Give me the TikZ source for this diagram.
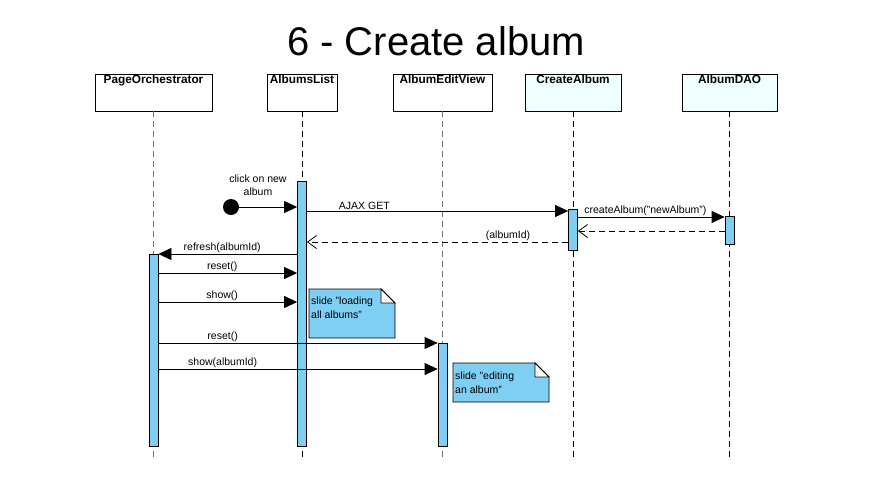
\documentclass[tikz,border=0pt]{standalone}
\usepackage{fontspec}
\setmainfont{Liberation Sans}
\usetikzlibrary{arrows.meta}
\definecolor{barblue}{HTML}{7FCFF5}
\definecolor{headcyan}{HTML}{F0FFFF}

\tikzset{
  head/.style={draw, line width=0.8pt, minimum height=37, inner sep=0pt},
  headtext/.style={font=\bfseries\fontsize{11.8}{14}\selectfont, inner sep=1.5pt},
  life/.style={dash pattern=on 6pt off 4pt, line width=0.8pt},
  bar/.style={draw, fill=barblue, minimum width=9, inner sep=0pt, line width=0.8pt},
  msg/.style={-{Triangle[length=13pt,width=12pt]}, line width=0.8pt},
  ret/.style={dash pattern=on 6pt off 4pt, -{Straight Barb[length=9pt,width=13pt]}, line width=0.8pt},
  lbl/.style={font=\fontsize{10.5}{13.5}\selectfont, inner sep=1pt},
  notebox/.style={draw, fill=barblue, line width=0.8pt},
}

\begin{document}
\begin{tikzpicture}[x=1pt, y=-1pt]
  \useasboundingbox (0,0) rectangle (872,491);
  \node[font=\fontsize{40}{48}\selectfont, anchor=base] (title) at (436,55) {6 - Create album};

  % lifeline heads
  \node[head, minimum width=117, label={[headtext, anchor=north]north:PageOrchestrator}] (po) at (153.5,92.5) {};
  \node[head, minimum width=70, label={[headtext, anchor=north]north:AlbumsList}] (al) at (302,92.5) {};
  \node[head, minimum width=99, label={[headtext, anchor=north]north:AlbumEditView}] (aev) at (442.5,92.5) {};
  \node[head, fill=headcyan, minimum width=96, label={[headtext, anchor=north]north:CreateAlbum}] (ca) at (573,92.5) {};
  \node[head, fill=headcyan, minimum width=95, label={[headtext, anchor=north]north:AlbumDAO}] (dao) at (729.5,92.5) {};

  % lifelines
  \draw[life, black!55] (po.south) -- (po.south |- 0,460);
  \draw[life] (al.south) -- (al.south |- 0,460);
  \draw[life, black!55] (aev.south) -- (aev.south |- 0,460);
  \draw[life] (ca.south) -- (ca.south |- 0,460);
  \draw[life] (dao.south) -- (dao.south |- 0,460);

  % activations
  \node[bar, minimum height=192] (pob) at (po.south |- 0,350) {};
  \node[bar, minimum height=265] (alb) at (al.south |- 0,313.5) {};
  \node[bar, minimum height=103] (aevb) at (aev.south |- 0,394.5) {};
  \node[bar, minimum height=41] (cab) at (ca.south |- 0,229.5) {};
  \node[bar, minimum height=28] (daob) at (dao.south |- 0,230) {};

  % messages
  \node[circle, fill, minimum size=16, inner sep=0pt] (start) at (231,207) {};
  \node[lbl, align=center] at (258,185) {click on new\\album};
  \draw[msg] (start) -- (start -| alb.west);
  \draw[msg] (alb.east |- 0,211) -- node[lbl, above, pos=0.22]{AJAX GET} (cab.west |- 0,211);
  \draw[msg] (cab.east |- 0,217) -- node[lbl, above, pos=0.46]{createAlbum("newAlbum")} (daob.west |- 0,217);
  \draw[ret] (daob.west |- 0,231) -- (cab.east |- 0,231);
  \draw[ret] (cab.west |- 0,242) -- node[lbl, above, pos=0.23]{(albumId)} (alb.east |- 0,242);
  \draw[msg] (alb.west |- 0,254) -- node[lbl, above, pos=0.54]{refresh(albumId)} (pob.east |- 0,254);
  \draw[msg] (pob.east |- 0,273) -- node[lbl, above, pos=0.46]{reset()} (alb.west |- 0,273);
  \draw[msg] (pob.east |- 0,302) -- node[lbl, above, pos=0.46]{show()} (alb.west |- 0,302);
  \draw[msg] (pob.east |- 0,343) -- node[lbl, above, pos=0.23]{reset()} (aevb.west |- 0,343);
  \draw[msg] (pob.east |- 0,369) -- node[lbl, above, pos=0.23]{show(albumId)} (aevb.west |- 0,369);

  % notes
  \draw[notebox] (309,289) -- (381,289) -- (395,303) -- (395,338) -- (309,338) -- cycle;
  \draw[line width=0.8pt, fill=white] (381,289) -- (381,303) -- (395,303) -- cycle;
  \node[lbl, anchor=north west, align=left] (note1) at (310,296) {slide "loading\\all albums"};
  \draw[notebox] (453,363) -- (535,363) -- (549,377) -- (549,402) -- (453,402) -- cycle;
  \draw[line width=0.8pt, fill=white] (535,363) -- (535,377) -- (549,377) -- cycle;
  \node[lbl, anchor=north west, align=left] (note2) at (454,371) {slide "editing\\an album"};
\end{tikzpicture}
\end{document}
